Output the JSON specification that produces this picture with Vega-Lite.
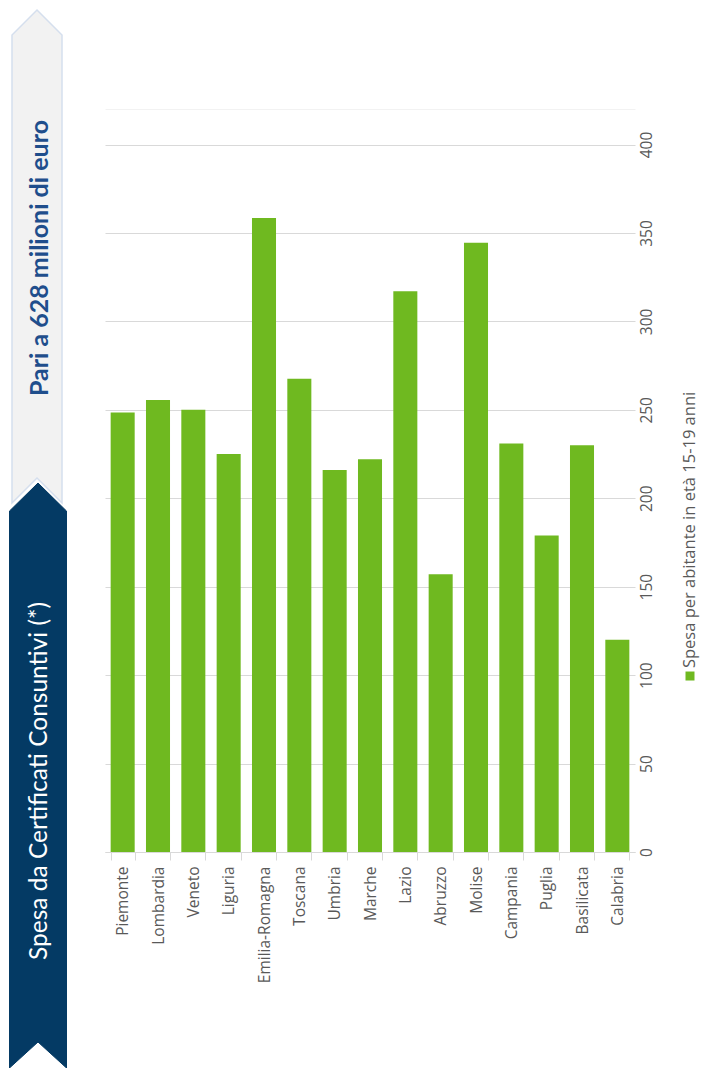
{
  "$schema": "https://vega.github.io/schema/vega-lite/v6.json",
  "padding": 0,
  "background": "white",
  "spacing": 25,
  "config": {"view": {"stroke": null}, "font": "Open Sans"},
  "resolve": {"scale": {"x": "independent", "y": "independent"}},
  "hconcat": [
    {
      "width": 73,
      "height": 1068,
      "layer": [
        {
          "data": {"values": [
            {"i": 1, "x": 37, "y": 10}, {"i": 2, "x": 62, "y": 35}, {"i": 3, "x": 62, "y": 503},
            {"i": 4, "x": 37, "y": 478}, {"i": 5, "x": 12, "y": 503}, {"i": 6, "x": 12, "y": 35}
          ]},
          "mark": {"type": "line", "fill": "#f2f2f2", "stroke": "#d5dfee", "strokeWidth": 1.5, "interpolate": "linear-closed"},
          "encoding": {
            "x": {"field": "x", "type": "quantitative", "scale": {"domain": [0, 73], "nice": false}, "axis": null},
            "y": {"field": "y", "type": "quantitative", "scale": {"domain": [0, 1068], "reverse": true, "nice": false}, "axis": null},
            "order": {"field": "i", "type": "quantitative"}
          }
        },
        {
          "data": {"values": [
            {"i": 1, "x": 38, "y": 483}, {"i": 2, "x": 66.5, "y": 511}, {"i": 3, "x": 66.5, "y": 1068},
            {"i": 4, "x": 38, "y": 1042}, {"i": 5, "x": 9.5, "y": 1068}, {"i": 6, "x": 9.5, "y": 511}
          ]},
          "mark": {"type": "line", "fill": "#043a64", "stroke": "#043a64", "strokeWidth": 1, "interpolate": "linear-closed"},
          "encoding": {
            "x": {"field": "x", "type": "quantitative"},
            "y": {"field": "y", "type": "quantitative"},
            "order": {"field": "i", "type": "quantitative"}
          }
        },
        {
          "data": {"values": [
            {"x": 40, "y": 258, "label": "Pari a 628 milioni di euro"}
          ]},
          "mark": {"type": "text", "angle": 270, "align": "center", "baseline": "middle", "fontSize": 25, "fontWeight": "bold", "color": "#1f4e8c", "font": "Lato"},
          "encoding": {
            "x": {"field": "x", "type": "quantitative"},
            "y": {"field": "y", "type": "quantitative"},
            "text": {"field": "label"}
          }
        },
        {
          "data": {"values": [
            {"x": 40, "y": 781, "label": "Spesa da Certificati Consuntivi (*)"}
          ]},
          "mark": {"type": "text", "angle": 270, "align": "center", "baseline": "middle", "fontSize": 24.5, "fontWeight": "normal", "color": "#ffffff", "font": "Lato"},
          "encoding": {
            "x": {"field": "x", "type": "quantitative"},
            "y": {"field": "y", "type": "quantitative"},
            "text": {"field": "label"}
          }
        }
      ]
    },
    {
      "width": 530,
      "height": 852,
      "data": {"values": [
        {"regione": "Piemonte", "spesa": 248.5},
        {"regione": "Lombardia", "spesa": 255.5},
        {"regione": "Veneto", "spesa": 250},
        {"regione": "Liguria", "spesa": 225},
        {"regione": "Emilia-Romagna", "spesa": 358.5},
        {"regione": "Toscana", "spesa": 267.5},
        {"regione": "Umbria", "spesa": 216},
        {"regione": "Marche", "spesa": 222},
        {"regione": "Lazio", "spesa": 317},
        {"regione": "Abruzzo", "spesa": 157},
        {"regione": "Molise", "spesa": 344.5},
        {"regione": "Campania", "spesa": 231},
        {"regione": "Puglia", "spesa": 179},
        {"regione": "Basilicata", "spesa": 230},
        {"regione": "Calabria", "spesa": 120}
      ]},
      "mark": {"type": "bar", "color": "#6fb920"},
      "encoding": {
        "x": {
          "field": "regione", "type": "nominal", "sort": null,
          "scale": {"paddingInner": 0.32, "paddingOuter": 0.16},
          "axis": {
            "title": null, "labelAngle": 270, "labelAlign": "right", "labelBaseline": "middle",
            "labelFontSize": 15.5, "labelColor": "#595959", "labelFont": "Open Sans",
            "tickBand": "extent", "tickSize": 8, "tickColor": "#d9d9d9", "domainColor": "#d9d9d9",
            "labelPadding": 6, "grid": false
          }
        },
        "y": {
          "field": "spesa", "type": "quantitative",
          "scale": {"domain": [0, 481.7], "nice": false},
          "axis": {
            "orient": "right", "title": null,
            "values": [0, 50, 100, 150, 200, 250, 300, 350, 400, 420],
            "labelExpr": "datum.value == 420 ? '' : datum.label",
            "labelAngle": 270, "labelAlign": "center", "labelBaseline": "top", "labelPadding": 4,
            "ticks": false, "domain": false, "grid": true,
            "gridColor": {"condition": {"test": "datum.value == 420", "value": "#f2f2f2"}, "value": "#d9d9d9"},
            "labelFontSize": 15.5, "labelColor": "#595959", "labelFont": "Open Sans"
          }
        }
      }
    },
    {
      "width": 20,
      "height": 852,
      "layer": [
        {
          "data": {"values": [{"x": 0.5, "y": 99.5}]},
          "mark": {"type": "square", "size": 81, "color": "#6fb920", "opacity": 1},
          "encoding": {
            "x": {"field": "x", "type": "quantitative", "scale": {"domain": [0, 1]}, "axis": null},
            "y": {"field": "y", "type": "quantitative", "scale": {"domain": [0, 481.7], "nice": false}, "axis": null}
          }
        },
        {
          "data": {"values": [{"x": 0.5, "y": 104, "label": "Spesa per abitante in età 15-19 anni"}]},
          "mark": {"type": "text", "angle": 270, "align": "left", "baseline": "middle", "fontSize": 16.5, "color": "#595959", "font": "Open Sans"},
          "encoding": {
            "x": {"field": "x", "type": "quantitative"},
            "y": {"field": "y", "type": "quantitative"},
            "text": {"field": "label"}
          }
        }
      ]
    }
  ]
}
